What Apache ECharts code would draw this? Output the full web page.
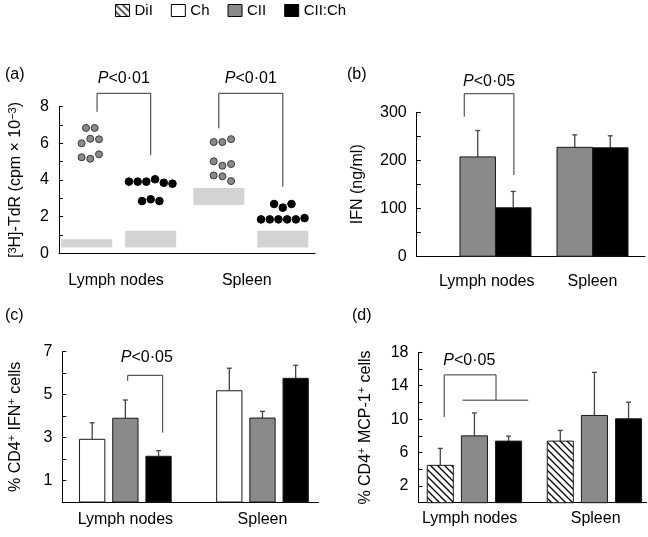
<!DOCTYPE html>
<html><head><meta charset="utf-8">
<script src="https://cdn.jsdelivr.net/npm/echarts@6/dist/echarts.min.js"></script>
<style>html,body{margin:0;padding:0;background:#fff}#c{width:648px;height:537px}</style>
</head><body><div id="c"></div>
<script>
// ---------------- DATA ----------------
const categories = ['Lymph nodes', 'Spleen'];
const legendNames = ['DiI', 'Ch', 'CII', 'CII:Ch'];

// (a) [3H]-TdR, individual mice (cpm x 10^-3), listed row by row, left to right
const aDotsCII = [[6.84, 6.84, 6.0, 6.25, 6.22, 5.24, 5.16, 5.4], [6.07, 6.07, 6.23, 5.02, 4.78, 4.87, 4.25, 4.2, 3.94]];
const aDotsCIICh = [[3.91, 3.91, 3.91, 4.04, 3.85, 3.8, 2.85, 2.95, 2.85], [2.69, 2.49, 2.69, 1.85, 1.85, 1.85, 1.85, 1.85, 1.92]];
// (a) background (unstimulated) ranges
const aBgLowCII = [0.31, 2.64];
const aBgHighCII = [0.76, 3.56];
const aBgLowCIICh = [0.31, 0.31];
const aBgHighCIICh = [1.23, 1.23];
const aTicks = [0, 2, 4, 6, 8];
const aP = ['P<0·01', 'P<0·01'];

// (b) IFN (ng/ml)
const bMeanCII = [207, 227];
const bErrCII = [55, 26];
const bMeanCIICh = [101, 226];
const bErrCIICh = [34, 25];
const bTicks = [0, 100, 200, 300];
const bP = ['P<0·05'];

// (c) % CD4+ IFN+ cells
const cMeanCh = [2.92, 5.18];
const cErrCh = [0.77, 1.05];
const cMeanCII = [3.90, 3.91];
const cErrCII = [0.85, 0.31];
const cMeanCIICh = [2.13, 5.76];
const cErrCIICh = [0.26, 0.61];
const cTicks = [1, 3, 5, 7];
const cP = ['P<0·05'];

// (d) % CD4+ MCP-1+ cells
const dMeanDiI = [4.47, 7.37];
const dErrDiI = [2.03, 1.28];
const dMeanCII = [8.0, 10.44];
const dErrCII = [2.75, 5.16];
const dMeanCIICh = [7.37, 10.04];
const dErrCIICh = [0.6, 1.99];
const dTicks = [2, 6, 10, 14, 18];
const dP = ['P<0·05'];

// ---------------- STYLE / LAYOUT ----------------
const FONT = '"Liberation Sans", Arial, Helvetica, sans-serif';
const GRAY = '#8a8a8a', BLACK = '#000000', WHITE = '#ffffff', LIGHT = '#d3d3d3';
const DOT_STEP = 8.7;

function makeHatch() {
  const s = 7;
  const c = document.createElement('canvas'); c.width = s; c.height = s;
  const g = c.getContext('2d');
  g.fillStyle = '#fff'; g.fillRect(0, 0, s, s);
  g.strokeStyle = '#000'; g.lineWidth = 1.3;
  g.beginPath();
  g.moveTo(-1, -1); g.lineTo(s + 1, s + 1);
  g.moveTo(-1, s - 1); g.lineTo(1, s + 1);
  g.moveTo(s - 1, -1); g.lineTo(s + 1, 1);
  g.stroke();
  return c;
}
const HATCH = { image: makeHatch(), repeat: 'repeat' };
const fills = { 'DiI': HATCH, 'Ch': WHITE, 'CII': GRAY, 'CII:Ch': BLACK };

const panels = [
  { grid: { left: 59, top: 106.7, width: 256, height: 146.6 }, xMin: -0.452, xMax: 1.486, labelAt: [-0.02, 0.97], labelMargin: 19,
    yMin: 0, yMax: 8, yInterval: 1, ticks: aTicks, name: '[{sup|3}H]-TdR (cpm × 10{sup|−3})', nameGap: 34 },
  { grid: { left: 416.7, top: 112.3, width: 228.3, height: 143.9 }, xMin: -0.812, xMax: 1.541, labelAt: [-0.09, 1.0], labelMargin: 17,
    yMin: 0, yMax: 300, yInterval: 50, ticks: bTicks, name: 'IFN (ng/ml)', nameGap: 50 },
  { grid: { left: 62.3, top: 351.7, width: 256.4, height: 150.3 }, xMin: -0.46, xMax: 1.41, labelAt: [0, 1], labelMargin: 10,
    yMin: 0, yMax: 7, yInterval: 1, ticks: cTicks, name: '% CD4{sup|+} IFN{sup|+} cells', nameGap: 38 },
  { grid: { left: 418.5, top: 352.3, width: 228, height: 150.4 }, xMin: -0.466, xMax: 1.434, labelAt: [-0.04, 1.01], labelMargin: 8,
    yMin: 0, yMax: 18, yInterval: 2, ticks: dTicks, name: '% CD4{sup|+} MCP-1{sup|+} cells', nameGap: 44 }
];

// ---------------- SERIES BUILDERS ----------------
function barSeries(p, name, means, errs, offset, width) {
  return {
    type: 'custom', name, xAxisIndex: p, yAxisIndex: p, z: 3,
    itemStyle: { color: name === 'DiI' ? '#fff' : fills[name] },
    data: means.map((m, i) => [i + offset, m, errs[i]]),
    encode: { x: 0, y: 1 },
    renderItem(params, api) {
      const x = api.value(0), v = api.value(1), e = api.value(2);
      const tl = api.coord([x - width / 2, v]);
      const br = api.coord([x + width / 2, 0]);
      const cx = api.coord([x, v])[0];
      const top = api.coord([x, v + e])[1];
      return { type: 'group', children: [
        { type: 'line', shape: { x1: cx, y1: tl[1], x2: cx, y2: top }, style: { stroke: '#444', lineWidth: 1.3 } },
        { type: 'line', shape: { x1: cx - 2.5, y1: top, x2: cx + 2.5, y2: top }, style: { stroke: '#444', lineWidth: 1.3 } },
        { type: 'rect', shape: { x: tl[0], y: tl[1], width: br[0] - tl[0], height: br[1] - tl[1] },
          style: { fill: fills[name], stroke: '#1a1a1a', lineWidth: 1 } }
      ] };
    }
  };
}

function rowSlots(values, tol) {
  const rows = []; let row = []; let start = null;
  values.forEach(v => {
    if (start === null || Math.abs(v - start) > tol) { if (row.length) rows.push(row); row = []; start = v; }
    row.push(v);
  });
  if (row.length) rows.push(row);
  const out = [];
  rows.forEach(r => r.forEach((v, i) => out.push([v, i - (r.length - 1) / 2])));
  return out;
}

function dotSeries(p, name, groups, offset, fill, stroke, size) {
  const data = [];
  groups.forEach((vals, ci) => rowSlots(vals, 0.4).forEach(([v, slot]) => data.push([ci + offset, v, slot])));
  return {
    type: 'custom', name, xAxisIndex: p, yAxisIndex: p, z: 4, data, encode: { x: 0, y: 1 },
    itemStyle: { color: fill },
    renderItem(params, api) {
      const c = api.coord([api.value(0), api.value(1)]);
      return { type: 'circle', shape: { cx: c[0] + api.value(2) * DOT_STEP, cy: c[1], r: size / 2 },
        style: { fill, stroke, lineWidth: 1 } };
    }
  };
}

function rangeSeries(p, name, lows, highs, offset, width) {
  return {
    type: 'custom', name, xAxisIndex: p, yAxisIndex: p, z: 2, encode: { x: 0, y: 1 },
    itemStyle: { color: LIGHT },
    data: lows.map((lo, i) => [i + offset, highs[i], lo]),
    renderItem(params, api) {
      const x = api.value(0);
      const tl = api.coord([x - width / 2, api.value(1)]);
      const br = api.coord([x + width / 2, api.value(2)]);
      return { type: 'rect', shape: { x: tl[0], y: tl[1], width: br[0] - tl[0], height: br[1] - tl[1] }, style: { fill: LIGHT } };
    }
  };
}

function pRich(t) { return t.replace(/^P/, '{i|P}'); }

function bracketSeries(p, brackets) {
  return {
    type: 'custom', name: 'sig' + p, xAxisIndex: p, yAxisIndex: p, z: 5, silent: true,
    data: brackets.map(b => b.labelAt), encode: { x: 0, y: 1 },
    renderItem(params, api) {
      const b = brackets[params.dataIndex];
      const children = b.lines.map(pts => ({ type: 'polyline', shape: { points: pts.map(q => api.coord(q)) },
        style: { stroke: '#333', lineWidth: 1, fill: null } }));
      const t = api.coord(b.labelAt);
      children.push({ type: 'text', x: t[0], y: t[1], style: {
        text: pRich(b.text), fontSize: 16, fontFamily: FONT, fill: '#000', align: 'center', verticalAlign: 'middle',
        rich: { i: { fontStyle: 'italic', fontSize: 16, fontFamily: FONT, fill: '#000' } } } });
      return { type: 'group', children };
    }
  };
}

// significance brackets (annotation geometry in axis units)
const aOff = 0.2423, aW = 0.386;
const bracketsA = [
  { lines: [[[-0.164, 7.72], [-0.164, 8.73], [aOff, 8.73], [aOff, 5.36]]], labelAt: [0.039, 9.56], text: aP[0] },
  { lines: [[[1 - aOff, 6.82], [1 - aOff, 8.73], [1 + aOff, 8.73], [1 + aOff, 3.63]]], labelAt: [1.0, 9.56], text: aP[1] }
];
const bracketsB = [
  { lines: [[[-0.322, 290.8], [-0.322, 338.8], [0.19, 338.8], [0.19, 169.3]]], labelAt: [-0.066, 363.8], text: bP[0] }
];
const bracketsC = [
  { lines: [[[0.017, 5.64], [0.017, 5.9], [0.272, 5.9], [0.272, 3.23]]], labelAt: [0.156, 6.74], text: cP[0] }
];
const bracketsD = [
  { lines: [[[-0.2516, 10.27], [-0.2516, 15.3], [0.18, 15.3], [0.18, 12.27]], [[-0.099, 12.27], [0.449, 12.27]]],
    labelAt: [-0.043, 16.97], text: dP[0] }
];

const series = [
  rangeSeries(0, 'bgCII', aBgLowCII, aBgHighCII, -aOff, aW),
  rangeSeries(0, 'bgCIICh', aBgLowCIICh, aBgHighCIICh, aOff, aW),
  dotSeries(0, 'dotsCII', aDotsCII, -0.215, GRAY, '#3a3a3a', 7),
  dotSeries(0, 'dotsCIICh', aDotsCIICh, aOff, BLACK, BLACK, 7.6),
  bracketSeries(0, bracketsA),
  barSeries(1, 'CII', bMeanCII, bErrCII, -0.183, 0.366),
  barSeries(1, 'CII:Ch', bMeanCIICh, bErrCIICh, 0.183, 0.366),
  bracketSeries(1, bracketsB),
  barSeries(2, 'Ch', cMeanCh, cErrCh, -0.242, 0.1845),
  barSeries(2, 'CII', cMeanCII, cErrCII, 0, 0.1845),
  barSeries(2, 'CII:Ch', cMeanCIICh, cErrCIICh, 0.242, 0.1845),
  bracketSeries(2, bracketsC),
  barSeries(3, 'DiI', dMeanDiI, dErrDiI, -0.2845, 0.217),
  barSeries(3, 'CII', dMeanCII, dErrCII, 0, 0.217),
  barSeries(3, 'CII:Ch', dMeanCIICh, dErrCIICh, 0.2845, 0.217),
  bracketSeries(3, bracketsD)
];

const option = {
  animation: false,
  backgroundColor: '#fff',
  textStyle: { fontFamily: FONT, color: '#000' },
  legend: {
    top: 3, left: 115, padding: 0, itemWidth: 14, itemHeight: 12, itemGap: 18, selectedMode: false,
    textStyle: { fontSize: 15, color: '#000', fontFamily: FONT },
    data: legendNames.map(n => ({ name: n, icon: 'rect', itemStyle: { color: fills[n], borderColor: '#000', borderWidth: 1 } }))
  },
  grid: panels.map(p => Object.assign({ containLabel: false, outerBoundsMode: 'none' }, p.grid)),
  xAxis: panels.map((p, i) => ({
    type: 'value', gridIndex: i, min: p.xMin, max: p.xMax,
    axisLine: { show: true, onZero: false, lineStyle: { color: '#000', width: 1 } },
    axisTick: { show: false }, splitLine: { show: false },
    axisLabel: { customValues: p.labelAt, formatter: v => categories[Math.round(v)] || '', fontSize: 16, color: '#000',
      fontFamily: FONT, margin: p.labelMargin, showMinLabel: true, showMaxLabel: true }
  })),
  yAxis: panels.map((p, i) => ({
    type: 'value', gridIndex: i, min: p.yMin, max: p.yMax, interval: p.yInterval,
    axisLine: { show: true, onZero: false, lineStyle: { color: '#000', width: 1 } },
    axisTick: { show: true, inside: true, length: 4, lineStyle: { color: '#000' } },
    splitLine: { show: false },
    axisLabel: { formatter: v => (p.ticks.indexOf(v) >= 0 ? String(v) : ''), fontSize: 16, color: '#000', fontFamily: FONT, margin: 10 },
    name: p.name, nameLocation: 'middle', nameRotate: 90, nameGap: p.nameGap,
    nameTextStyle: { fontSize: 16, color: '#000', fontFamily: FONT, lineHeight: 18,
      rich: { sup: { fontSize: 11, fontFamily: FONT, color: '#000', verticalAlign: 'top', lineHeight: 11 } } }
  })),
  graphic: [
    { type: 'text', left: 5, top: 67, style: { text: '(a)', fontSize: 16, fontFamily: FONT, fill: '#000' } },
    { type: 'text', left: 347, top: 67, style: { text: '(b)', fontSize: 16, fontFamily: FONT, fill: '#000' } },
    { type: 'text', left: 5, top: 308, style: { text: '(c)', fontSize: 16, fontFamily: FONT, fill: '#000' } },
    { type: 'text', left: 352, top: 308, style: { text: '(d)', fontSize: 16, fontFamily: FONT, fill: '#000' } }
  ],
  series
};

const chart = echarts.init(document.getElementById('c'), null, { renderer: 'canvas' });
chart.setOption(option);
</script></body></html>
